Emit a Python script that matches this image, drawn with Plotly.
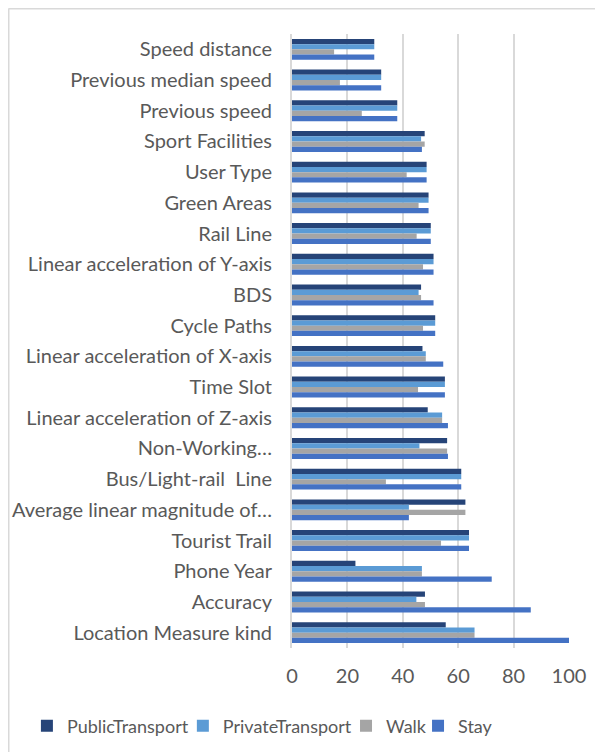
import plotly.graph_objects as go

categories = [
    "Speed distance", "Previous median speed", "Previous speed", "Sport Facilities",
    "User Type", "Green Areas", "Rail Line", "Linear acceleration of Y-axis", "BDS",
    "Cycle Paths", "Linear acceleration of X-axis", "Time Slot",
    "Linear acceleration of Z-axis", "Non-Working…", "Bus/Light-rail  Line",
    "Average linear magnitude of…", "Tourist Trail", "Phone Year", "Accuracy",
    "Location Measure kind",
]
public_transport = [29.7, 32.2, 38.0, 47.9, 48.6, 49.3, 50.1, 51.1, 46.6, 51.7,
                    47.1, 55.2, 49.0, 56.0, 61.1, 62.6, 63.9, 22.9, 48.0, 55.5]
private_transport = [29.7, 32.2, 38.0, 46.6, 48.6, 49.3, 50.1, 51.1, 45.7, 51.7,
                     48.3, 55.2, 54.2, 46.0, 61.1, 42.2, 63.9, 46.9, 44.9, 65.9]
walk = [15.2, 17.3, 25.2, 47.9, 41.4, 45.7, 45.0, 47.3, 46.6, 47.3,
        48.3, 45.5, 54.2, 56.0, 33.9, 62.6, 53.8, 46.9, 48.0, 65.9]
stay = [29.7, 32.2, 38.0, 46.9, 48.6, 49.3, 50.1, 51.1, 51.1, 51.7,
        54.6, 55.2, 56.3, 56.3, 61.1, 42.2, 63.9, 72.1, 86.2, 100.0]
x_ticks = [0, 20, 40, 60, 80, 100]

series = [
    ("PublicTransport", public_transport, "#264478", "legend", -0.957),
    ("PrivateTransport", private_transport, "#5B9BD5", "legend2", -0.394),
    ("Walk", walk, "#A5A5A5", "legend3", 0.195),
    ("Stay", stay, "#4472C4", "legend4", 0.455),
]

fig = go.Figure()
for name, vals, color, leg, _ in series:
    fig.add_trace(go.Bar(
        y=categories, x=vals, name=name, orientation="h", legend=leg,
        marker=dict(color=color, line=dict(width=0)),
    ))

FONT = "Lato, Carlito, Calibri, sans-serif"
legend_common = dict(orientation="h", xanchor="left", y=-0.127,
                     yanchor="middle", font=dict(size=18, color="#595959"),
                     itemwidth=30, bgcolor="rgba(0,0,0,0)")
legends = {}
for name, vals, color, leg, lx in series:
    legends[leg] = dict(legend_common, x=lx)

fig.update_layout(
    width=603, height=752,
    margin=dict(l=284, r=42, t=26, b=112, autoexpand=False),
    paper_bgcolor="white", plot_bgcolor="white",
    barmode="group", bargap=0.32, bargroupgap=0,
    font=dict(family=FONT, size=20, color="#595959"),
    xaxis=dict(range=[0, 100], tickvals=x_ticks, showgrid=True,
               gridcolor="#d9d9d9", gridwidth=2, zeroline=False,
               ticks="", ticklabelstandoff=14,
               tickfont=dict(size=20, color="#595959")),
    yaxis=dict(categoryorder="array", categoryarray=categories,
               autorange="reversed", showline=True, linecolor="#d9d9d9",
               linewidth=2, ticks="", ticklabelstandoff=14,
               tickfont=dict(size=20, color="#595959")),
    showlegend=True,
    shapes=[
        dict(type="line", xref="paper", yref="paper", x0=-1.0235, x1=1.3,
             y0=1.0415, y1=1.0415, line=dict(color="#d9d9d9", width=2)),
        dict(type="line", xref="paper", yref="paper", x0=-1.0235, x1=-1.0235,
             y0=1.0415, y1=-0.3, line=dict(color="#d9d9d9", width=2)),
    ],
    **legends,
)

fig.write_html("out.html")
